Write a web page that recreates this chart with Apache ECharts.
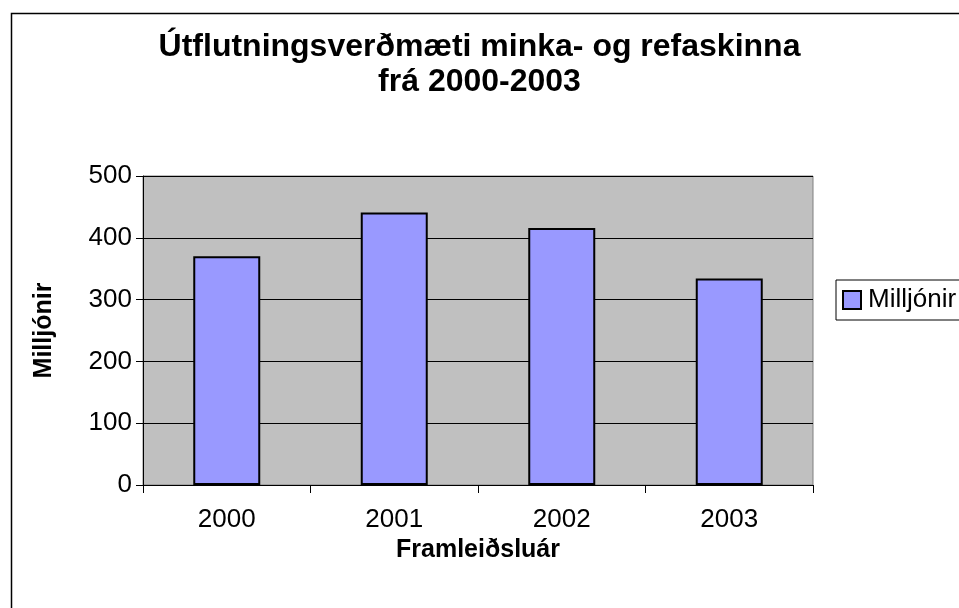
<!DOCTYPE html>
<html><head><meta charset="utf-8">
<script src="https://cdn.jsdelivr.net/npm/echarts@6/dist/echarts.min.js"></script>
<style>html,body{margin:0;padding:0;background:#fff}#c{width:959px;height:608px}</style>
</head><body><div id="c"></div>
<script>
const categories = ['2000', '2001', '2002', '2003'];
const values = [370, 441, 416, 334];
const seriesName = 'Milljónir';
const titleText = 'Útflutningsverðmæti minka- og refaskinna\nfrá 2000-2003';
const xName = 'Framleiðsluár';
const yName = 'Milljónir';

const FONT = '"Liberation Sans", Arial, sans-serif';
const chart = echarts.init(document.getElementById('c'), null, {renderer: 'canvas'});
chart.setOption({
  animation: false,
  backgroundColor: '#ffffff',
  graphic: [{
    type: 'rect', left: 9, top: 11, z: 100, silent: true,
    shape: {x: 0, y: 0, width: 1000, height: 700},
    style: {fill: 'none', stroke: '#000', lineWidth: 1.5}
  }],
  title: {
    text: titleText, left: 'center', top: 25,
    textStyle: {fontFamily: FONT, fontWeight: 'bold', fontSize: 32, lineHeight: 35, color: '#000'}
  },
  legend: {
    show: true, left: 836, top: 280, orient: 'vertical',
    padding: [7, 30, 7, 6],
    borderColor: '#000', borderWidth: 1, backgroundColor: '#fff',
    itemWidth: 18, itemHeight: 18, itemGap: 4,
    icon: 'rect',
    textStyle: {fontFamily: FONT, fontSize: 26, color: '#000', padding: [0, 0, 0, 2]},
    data: [{name: seriesName, itemStyle: {color: '#9999FF', borderColor: '#000', borderWidth: 2}}]
  },
  grid: {
    left: 143, right: 146, top: 176, bottom: 123,
    show: true, backgroundColor: '#C0C0C0', borderColor: '#808080', borderWidth: 1
  },
  xAxis: {
    type: 'category', data: categories,
    name: xName, nameLocation: 'middle', nameGap: 44,
    nameTextStyle: {fontFamily: FONT, fontWeight: 'bold', fontSize: 25, color: '#000'},
    axisLine: {lineStyle: {color: '#000', width: 1}},
    axisTick: {show: true, length: 8, lineStyle: {color: '#000'}},
    axisLabel: {fontFamily: FONT, fontSize: 26, color: '#000', margin: 22},
    splitLine: {show: false}
  },
  yAxis: {
    type: 'value', min: 0, max: 500, interval: 100,
    name: yName, nameLocation: 'middle', nameGap: 86,
    nameTextStyle: {fontFamily: FONT, fontWeight: 'bold', fontSize: 25, color: '#000'},
    axisLine: {show: true, lineStyle: {color: '#000', width: 1}},
    axisTick: {show: true, length: 7, lineStyle: {color: '#000'}},
    axisLabel: {fontFamily: FONT, fontSize: 26, color: '#000', margin: 11},
    splitLine: {show: true, lineStyle: {color: '#000', width: 1}}
  },
  series: [{
    name: seriesName, type: 'bar', data: values,
    barWidth: '40%',
    itemStyle: {color: '#9999FF', borderColor: '#000', borderWidth: 2}
  }]
});
</script></body></html>
